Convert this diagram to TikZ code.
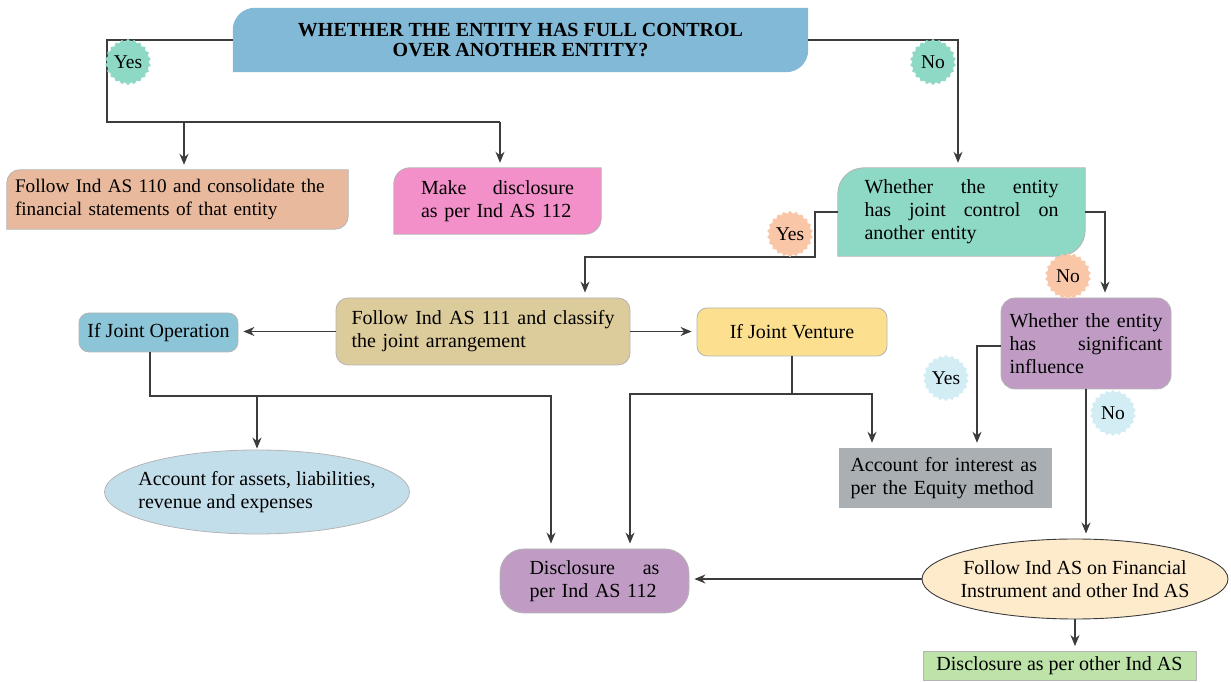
\documentclass[tikz,border=0pt]{standalone}
\usepackage{fontspec}
\setmainfont{Liberation Serif}
\usetikzlibrary{arrows.meta,shapes.geometric,backgrounds,calc}
\definecolor{linec}{HTML}{3C3C3C}
\definecolor{bord}{HTML}{B4B4B4}
\definecolor{cTop}{HTML}{82B9D6}
\definecolor{cOrange}{HTML}{E9B99D}
\definecolor{cPink}{HTML}{F38FC9}
\definecolor{cTeal}{HTML}{8ED9C5}
\definecolor{cTan}{HTML}{DCCB9B}
\definecolor{cJop}{HTML}{8CC5D7}
\definecolor{cJv}{HTML}{FCE08F}
\definecolor{cPurple}{HTML}{C09CC5}
\definecolor{cEone}{HTML}{C3DEEB}
\definecolor{cEq}{HTML}{A9AFB3}
\definecolor{cEtwo}{HTML}{FEEBCC}
\definecolor{cGreen}{HTML}{BDE3A9}
\definecolor{sTeal}{HTML}{8ED9C5}
\definecolor{sPeach}{HTML}{FAC6A8}
\definecolor{sBlue}{HTML}{D3EDF4}
\newcommand\diagfill[3]{%
  \path[fill=#2,draw=bord,line width=0.8pt] (#1.south west) -- ($(#1.north west)+(0,-#3)$)
    arc[start angle=180,end angle=90,radius=#3] -- (#1.north east) -- ($(#1.south east)+(0,#3)$)
    arc[start angle=0,end angle=-90,radius=#3] -- cycle;}
\begin{document}
\begin{tikzpicture}[x=1pt,y=1pt,
  txt/.style={font=\fontsize{20}{23}\selectfont, align=left, inner sep=0pt},
  rbox/.style={txt, draw=bord, line width=0.8pt, rounded corners=12pt},
  line/.style={draw=linec, line width=1.3pt},
  arr/.style={line, -{Stealth[length=11pt,width=9pt,inset=3.5pt]}, shorten >=5pt},
  burst/.style={star, star points=22, star point ratio=1.12, minimum size=46pt, inner sep=0pt,
     font=\fontsize{19.5}{21}\selectfont}]
\useasboundingbox (0,0) rectangle (1231,682);

% nodes with diagonal corners
\node[txt, align=center, font=\bfseries\fontsize{20}{20}\selectfont, minimum width=575pt, minimum height=64pt] (top) at (520.5,642) {WHETHER THE ENTITY HAS FULL CONTROL\\OVER ANOTHER ENTITY?};
\node[txt, font=\fontsize{19.2}{23}\selectfont, text width=325pt, minimum width=341pt, minimum height=59pt] (orange) at (177.5,482.5) {Follow Ind AS 110 and consolidate the\\financial statements of that entity};
\node[txt, text width=153pt, minimum width=207pt, minimum height=66pt] (pink) at (497.5,481) {Make\hfill disclosure\\as per Ind AS 112};
\node[txt, text width=194pt, minimum width=247pt, minimum height=88pt] (teal) at (961.5,470) {Whether\hfill the\hfill entity\\has\hfill joint\hfill control\hfill on\\another entity};
\begin{pgfonlayer}{background}
\path[fill=cTop] (top.south west) -- ($(top.north west)+(0,-22pt)$)
    arc[start angle=180,end angle=90,radius=22pt] -- (top.north east) -- ($(top.south east)+(0,22pt)$)
    arc[start angle=0,end angle=-90,radius=22pt] -- cycle;
\diagfill{orange}{cOrange}{13pt}
\diagfill{pink}{cPink}{16pt}
\diagfill{teal}{cTeal}{26pt}
\end{pgfonlayer}

% rounded boxes
\node[rbox, fill=cTan, text width=263pt, minimum width=294pt, minimum height=67pt] (tan) at (483,350.5) {Follow\hfill Ind\hfill AS\hfill 111\hfill and\hfill classify\\the joint arrangement};
\node[rbox, fill=cJop, align=center, font=\fontsize{20}{22}\selectfont, minimum width=159pt, minimum height=39pt, rounded corners=10pt] (jop) at (158.5,349.5) {If Joint Operation};
\node[rbox, fill=cJv, align=center, minimum width=190pt, minimum height=48pt, rounded corners=10pt] (jv) at (792,350) {If Joint Venture};
\node[rbox, fill=cPurple, text width=153pt, minimum width=170pt, minimum height=91pt, rounded corners=14pt] (purple) at (1086,338.5) {Whether\hfill the\hfill entity\\has\hfill significant\\influence};
\node[rbox, fill=cPurple, text width=130pt, minimum width=189pt, minimum height=64pt, rounded corners=24pt] (disc) at (594.5,101) {Disclosure\hfill as\\per Ind AS 112};

% ellipses (shape) and their texts
\node[ellipse, draw=bord, line width=0.8pt, fill=cEone, minimum width=305pt, minimum height=84pt, inner sep=0pt] (e1) at (257,190) {};
\node[txt] (e1t) at (e1.center) {Account for assets, liabilities,\\revenue and expenses};
\node[ellipse, draw=linec, line width=0.9pt, fill=cEtwo, minimum width=306pt, minimum height=80pt, inner sep=0pt] (e2) at (1075,103) {};
\node[txt, align=center] (e2t) at (e2.center) {Follow Ind AS on Financial\\Instrument and other Ind AS};

% plain rectangles
\node[txt, fill=cEq, text width=190pt, minimum width=213pt, minimum height=60pt] (eq) at (945.5,204) {Account for interest as\\per the Equity method};
\node[txt, fill=cGreen, draw=bord, line width=0.8pt, align=center, minimum width=273pt, minimum height=29pt] (green) at (1059.5,16) {Disclosure as per other Ind AS};

% coordinates
\coordinate (yesA) at (107,560);
\coordinate (tY) at (815,425);
\coordinate (joL) at (150,286);
\coordinate (joR) at (551,286);
\coordinate (jvM) at (792,288);
\coordinate (jvL) at (630,288);
\coordinate (jvR) at (872,288);
\coordinate (pY) at (977,336);

% connectors
\draw[line] (top.west) -| (yesA) -- ([xshift=2.5pt]pink.north |- yesA);
\draw[arr] ([xshift=6.5pt]orange.north |- yesA) -- ([xshift=6.5pt]orange.north);
\draw[arr] ([xshift=2.5pt]pink.north |- yesA) -- ([xshift=2.5pt]pink.north);
\draw[arr] (top.east) -| ([xshift=-3.5pt]teal.north);
\draw[arr] (teal.west) -| (tY) -| ([xshift=102pt]tan.north);
\draw[arr] (teal.east) -| ([xshift=19pt]purple.north);
\draw[arr] (tan.west) -- (tan.west -| jop.east);
\draw[arr] (tan.east) -- (tan.east -| jv.west);
\draw[arr] (jop.south -| joL) -- (joL) -- (joR) -- (joR |- disc.north);
\draw[arr, shorten >=1pt] (e1.north |- joL) -- (e1.north);
\draw[line] (jv.south) -- (jvM);
\draw[arr] (jvM) -- (jvL) -- (jvL |- disc.north);
\draw[arr] (jvM) -- (jvR) -- (jvR |- eq.north);
\draw[arr] (purple.west |- pY) -- (pY) -- (pY |- eq.north);
\draw[arr] (purple.south) -- (purple.south |- e2.north);
\draw[arr] (e2.west) -- (e2.west -| disc.east);
\draw[arr] (e2.south) -- (e2.south |- green.north);

% bursts
\node[burst, fill=sTeal] (b1) at (128,620) {Yes};
\node[burst, fill=sTeal] (b2) at (933,620) {No};
\node[burst, fill=sPeach] (b3) at (790,448) {Yes};
\node[burst, fill=sPeach] (b4) at (1068,406) {No};
\node[burst, fill=sBlue] (b5) at (946,304) {Yes};
\node[burst, fill=sBlue] (b6) at (1113,269) {No};
\end{tikzpicture}
\end{document}
